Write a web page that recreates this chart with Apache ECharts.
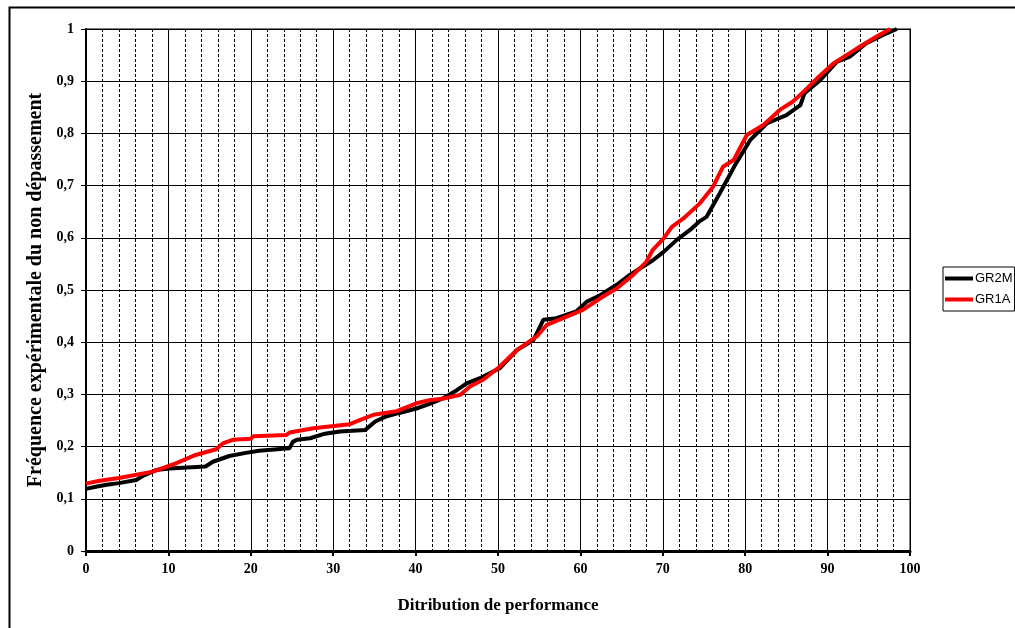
<!DOCTYPE html>
<html>
<head>
<meta charset="utf-8">
<script src="https://cdn.jsdelivr.net/npm/echarts@6/dist/echarts.min.js"></script>
<style>
html,body{margin:0;padding:0;background:#fff;}
#chart{width:1015px;height:628px;}
</style>
</head>
<body>
<div id="chart"></div>
<script>
const seriesNames = ['GR2M', 'GR1A'];
const xTicks = [0, 10, 20, 30, 40, 50, 60, 70, 80, 90, 100];

const xGR2M = [0, 1.2, 2.5, 4.0, 6.1, 6.9, 8.5, 10.1, 14.5, 15.4, 17.4, 19.4, 21, 24.7, 25.1, 25.6, 27.2, 28.8, 30.8, 33.9, 35.1, 36.3, 37.9, 40.1, 41.7, 43.4, 45.0, 46.2, 47.8, 50.2, 52.3, 54.3, 55.5, 57.1, 59.5, 60.8, 62.4, 64.4, 66.0, 67.6, 68.8, 70.1, 71.7, 73.3, 74.5, 75.3, 76.9, 78.9, 80.6, 82.6, 85.0, 86.7, 87.2, 89.1, 91.1, 92.7, 94.7, 96.8, 98.4];
const yGR2M = [0.119, 0.123, 0.127, 0.130, 0.136, 0.144, 0.155, 0.158, 0.162, 0.171, 0.182, 0.188, 0.192, 0.197, 0.209, 0.213, 0.216, 0.224, 0.229, 0.232, 0.248, 0.257, 0.264, 0.273, 0.282, 0.293, 0.308, 0.321, 0.331, 0.350, 0.385, 0.404, 0.443, 0.446, 0.459, 0.478, 0.490, 0.510, 0.529, 0.545, 0.557, 0.573, 0.596, 0.615, 0.632, 0.640, 0.685, 0.743, 0.787, 0.819, 0.835, 0.854, 0.877, 0.902, 0.937, 0.947, 0.973, 0.989, 1.0];

const xGR1A = [0, 1.5, 4.0, 8.1, 10.9, 13.3, 15.8, 16.6, 17.8, 20.0, 20.3, 24.3, 24.7, 27.6, 32.0, 33.3, 34.9, 37.7, 40.1, 41.7, 43.4, 45.4, 46.6, 48.2, 50.2, 52.3, 54.7, 55.9, 57.9, 60.3, 62.7, 64.4, 66.4, 68.0, 68.8, 70.1, 71.1, 72.5, 74.5, 76.1, 77.3, 78.6, 80.2, 82.2, 84.2, 85.8, 87.1, 88.7, 90.7, 92.3, 93.9, 95.9, 97.6];
const yGR1A = [0.129, 0.134, 0.140, 0.152, 0.168, 0.184, 0.195, 0.206, 0.213, 0.215, 0.220, 0.222, 0.227, 0.235, 0.243, 0.251, 0.261, 0.268, 0.283, 0.289, 0.292, 0.299, 0.315, 0.328, 0.353, 0.385, 0.411, 0.433, 0.446, 0.462, 0.487, 0.503, 0.529, 0.554, 0.577, 0.599, 0.621, 0.637, 0.666, 0.698, 0.736, 0.749, 0.797, 0.816, 0.845, 0.861, 0.880, 0.905, 0.934, 0.950, 0.966, 0.985, 1.0];

const pairs = (xs, ys) => xs.map((x, i) => [x, ys[i]]);

const chart = echarts.init(document.getElementById('chart'), null, {renderer: 'canvas'});
const serif = 'Liberation Serif, Times New Roman, serif';

chart.setOption({
  animation: false,
  backgroundColor: '#fff',
  graphic: [{
    type: 'rect', left: 7, top: 5, z: -10,
    shape: {width: 1020, height: 640},
    style: {fill: 'none', stroke: '#000', lineWidth: 2}
  }],
  grid: {
    left: 86, right: 105, top: 29, bottom: 77,
    show: true, borderColor: '#808080', borderWidth: 2, backgroundColor: 'transparent'
  },
  legend: {
    orient: 'vertical', left: 943, top: 267,
    padding: [5, 2, 5, 2], itemGap: 8,
    borderColor: '#000', borderWidth: 1,
    itemWidth: 28, itemHeight: 4,
    icon: 'rect',
    data: seriesNames,
    textStyle: {fontFamily: 'Liberation Sans, Arial, sans-serif', fontSize: 13, color: '#000', padding: [0, 0, 0, -3]}
  },
  xAxis: {
    type: 'value', min: 0, max: 100, interval: 10,
    name: 'Ditribution de performance', nameLocation: 'middle', nameGap: 46,
    nameTextStyle: {fontFamily: serif, fontWeight: 'bold', fontSize: 17, color: '#000'},
    axisLine: {show: true, onZero: false, lineStyle: {color: '#000', width: 3}},
    axisTick: {show: true, length: 5, inside: false, lineStyle: {color: '#000', width: 2}},
    axisLabel: {
      fontFamily: serif, fontWeight: 'bold', fontSize: 14, color: '#000', margin: 11,
      formatter: v => xTicks.includes(v) ? String(v) : ''
    },
    splitLine: {show: true, lineStyle: {color: '#000', width: 1}},
    minorTick: {show: false, splitNumber: 5},
    minorSplitLine: {show: true, lineStyle: {color: '#000', width: 1, type: [3, 2]}}
  },
  yAxis: {
    type: 'value', min: 0, max: 1, interval: 0.1,
    name: 'Fréquence expérimentale du non dépassement', nameLocation: 'middle', nameGap: 33,
    nameTextStyle: {fontFamily: serif, fontWeight: 'bold', fontSize: 20, color: '#000'},
    axisLine: {show: true, onZero: false, lineStyle: {color: '#000', width: 2}},
    axisTick: {show: true, length: 5, lineStyle: {color: '#000', width: 1}},
    axisLabel: {
      fontFamily: serif, fontWeight: 'bold', fontSize: 14, color: '#000', margin: 12,
      formatter: v => {
        const r = Math.round(v * 10) / 10;
        if (r === 0) return '0';
        if (r === 1) return '1';
        return r.toFixed(1).replace('.', ',');
      }
    },
    splitLine: {show: true, lineStyle: {color: '#000', width: 1}}
  },
  series: [
    {
      name: seriesNames[0], type: 'line', data: pairs(xGR2M, yGR2M),
      showSymbol: false, symbol: 'none', smooth: false,
      itemStyle: {color: '#000'},
      lineStyle: {color: '#000', width: 4}
    },
    {
      name: seriesNames[1], type: 'line', data: pairs(xGR1A, yGR1A),
      showSymbol: false, symbol: 'none', smooth: false,
      itemStyle: {color: '#ff0000'},
      lineStyle: {color: '#ff0000', width: 4}
    }
  ]
});
</script>
</body>
</html>
